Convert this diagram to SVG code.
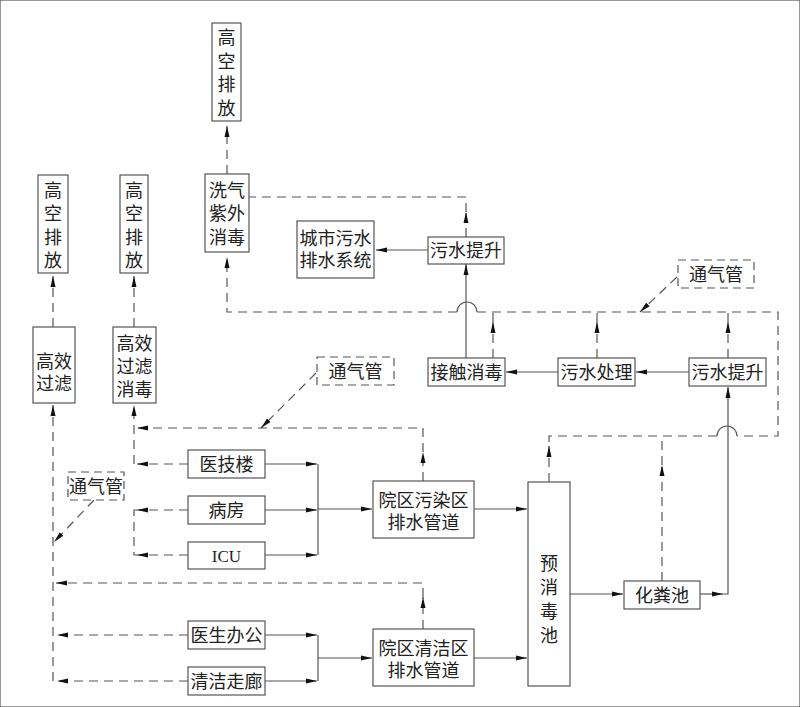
<svg xmlns="http://www.w3.org/2000/svg" width="800" height="707" viewBox="0 0 800 707">
<defs>
<marker id="ar" markerUnits="userSpaceOnUse" markerWidth="11" markerHeight="6" refX="11" refY="3" orient="auto">
<path d="M0,0.5 L11,3 L0,5.5 z" fill="#111" stroke="none"/>
</marker>
</defs>
<style>
rect{fill:#fff;stroke:#555;stroke-width:1.2}
rect.d{stroke-dasharray:8 5}
text{font-family:"Liberation Sans","Noto Sans CJK SC",sans-serif;font-size:18px;fill:#222;text-anchor:middle}
text.s{font-family:"Liberation Serif",serif;font-size:17px}
.c path{fill:none;stroke:#555;stroke-width:1.2}
.c .d path{stroke-dasharray:9 6}
.c .a{marker-end:url(#ar)}
</style>
<rect width="800" height="707" fill="#fff" stroke="none"/>

<g class="c" id="connectors">
<g id="solid">
<path class="a" d="M428,250 H376"/>
<path class="a" d="M466,358 V264"/>
<path class="a" d="M689,372 H636"/>
<path class="a" d="M558,372 H506"/>
<path class="a" d="M700,594 H723"/>
<path class="a" d="M723,594 H728 V387"/>
<path class="a" d="M570,594 H623"/>
<path class="a" d="M474,509 H527"/>
<path class="a" d="M474,658 H527"/>
<path class="a" d="M265,464 H317"/>
<path class="a" d="M265,510 H317"/>
<path class="a" d="M265,555 H317"/>
<path d="M318,464 V555"/>
<path class="a" d="M318,509 H372"/>
<path class="a" d="M265,635 H317"/>
<path class="a" d="M265,681 H317"/>
<path d="M318,635 V681"/>
<path class="a" d="M318,658 H372"/>
<path d="M457,312 A10,10 0 0 1 477,312"/>
<path d="M717,436 A10,10 0 0 1 737,436"/>
</g>
<g class="d" id="dashed">
<path class="a" d="M227,174 V126"/>
<path class="a" d="M466,237 V212"/>
<path d="M466,212 V197 H249"/>
<path class="a" d="M457,312 H227 V257"/>
<path d="M477,312 H778 V436 H737"/>
<path d="M717,436 H549 V446"/>
<path class="a" d="M549,482 V446"/>
<path class="a" d="M493,358 V322"/>
<path d="M493,322 V312"/>
<path class="a" d="M597,358 V322"/>
<path d="M597,322 V312"/>
<path class="a" d="M728,358 V322"/>
<path d="M728,322 V312"/>
<path class="a" d="M662,581 V465"/>
<path d="M662,465 V436"/>
<path class="a" d="M677,277 L640,312"/>
<path class="a" d="M53,327 V276"/>
<path class="a" d="M134,327 V276"/>
<path class="a" d="M423,481 V452"/>
<path class="a" d="M423,452 V428 H137"/>
<path class="a" d="M134,464 V405"/>
<path class="a" d="M188,464 H137"/>
<path class="a" d="M188,510 H137"/>
<path d="M137,510 H134 V555 H137"/>
<path class="a" d="M188,555 H137"/>
<path class="a" d="M316,373 L261,428"/>
<path class="a" d="M94,500 L54,542"/>
<path class="a" d="M423,629 V597"/>
<path class="a" d="M423,597 V583 H56"/>
<path class="a" d="M53,681 V405"/>
<path class="a" d="M188,635 H57"/>
<path class="a" d="M188,681 H57"/>
</g>
</g>

<g id="n-top-gkpf"><rect x="212" y="23" width="29" height="98"/>
<text x="226.5" y="44">高<tspan x="226.5" dy="24">空</tspan><tspan x="226.5" dy="23">排</tspan><tspan x="226.5" dy="24">放</tspan></text></g>

<g id="n-xiqi"><rect x="205" y="174" width="44" height="78"/>
<text x="227" y="196.5">洗气<tspan x="227" dy="23">紫外</tspan><tspan x="227" dy="24">消毒</tspan></text></g>

<g id="n-city"><rect x="297" y="221" width="77" height="57"/>
<text x="335.5" y="244.5">城市污水<tspan x="335.5" dy="22">排水系统</tspan></text></g>

<g id="n-tisheng-top"><rect x="428" y="237" width="76" height="27"/>
<text x="466" y="256.5">污水提升</text></g>

<g id="n-jiechu"><rect x="428" y="358" width="77" height="28"/>
<text x="466.5" y="378.5">接触消毒</text></g>

<g id="n-chuli"><rect x="558" y="358" width="77" height="28"/>
<text x="596.5" y="378.5">污水处理</text></g>

<g id="n-tisheng-right"><rect x="689" y="358" width="77" height="28"/>
<text x="727.5" y="378.5">污水提升</text></g>

<g id="n-tqg-right"><rect class="d" x="678" y="260" width="76" height="28"/>
<text x="716" y="280.5">通气管</text></g>

<g id="n-gkpf1"><rect x="38" y="175" width="30" height="98"/>
<text x="53" y="196.5">高<tspan x="53" dy="23">空</tspan><tspan x="53" dy="24">排</tspan><tspan x="53" dy="23">放</tspan></text></g>

<g id="n-gkpf2"><rect x="120" y="175" width="28" height="98"/>
<text x="134" y="196.5">高<tspan x="134" dy="23">空</tspan><tspan x="134" dy="24">排</tspan><tspan x="134" dy="23">放</tspan></text></g>

<g id="n-gxgl"><rect x="33" y="327" width="42" height="76"/>
<text x="54" y="367.5">高效<tspan x="54" dy="22.5">过滤</tspan></text></g>

<g id="n-gxglxd"><rect x="113" y="327" width="43" height="76"/>
<text x="134.5" y="349.5">高效<tspan x="134.5" dy="23">过滤</tspan><tspan x="134.5" dy="23">消毒</tspan></text></g>

<g id="n-tqg-mid"><rect class="d" x="317" y="357" width="77" height="28"/>
<text x="355.5" y="377.5">通气管</text></g>

<g id="n-yiji"><rect x="188" y="450" width="77" height="28"/>
<text x="226.5" y="470.5">医技楼</text></g>

<g id="n-bingfang"><rect x="188" y="496" width="77" height="28"/>
<text x="226.5" y="516.5">病房</text></g>

<g id="n-icu"><rect x="188" y="542" width="77" height="27"/>
<text class="s" x="226.5" y="561.5">ICU</text></g>

<g id="n-tqg-left"><rect class="d" x="68" y="472" width="56" height="28"/>
<text x="96" y="492.5">通气管</text></g>

<g id="n-wuran"><rect x="373" y="481" width="101" height="57"/>
<text x="423.5" y="506.5">院区污染区<tspan x="423.5" dy="22">排水管道</tspan></text></g>

<g id="n-yisheng"><rect x="188" y="621" width="77" height="28"/>
<text x="226.5" y="641.5">医生办公</text></g>

<g id="n-zoulang"><rect x="188" y="667" width="77" height="28"/>
<text x="226.5" y="687.5">清洁走廊</text></g>

<g id="n-qingjie"><rect x="373" y="629" width="101" height="57"/>
<text x="423.5" y="654.5">院区清洁区<tspan x="423.5" dy="22">排水管道</tspan></text></g>

<g id="n-yuxiaodu"><rect x="528" y="482" width="42" height="204"/>
<text x="549" y="569.5">预<tspan x="549" dy="24.5">消</tspan><tspan x="549" dy="24">毒</tspan><tspan x="549" dy="23.5">池</tspan></text></g>

<g id="n-huafen"><rect x="624" y="581" width="76" height="28"/>
<text x="662" y="601.5">化粪池</text></g>
</svg>
